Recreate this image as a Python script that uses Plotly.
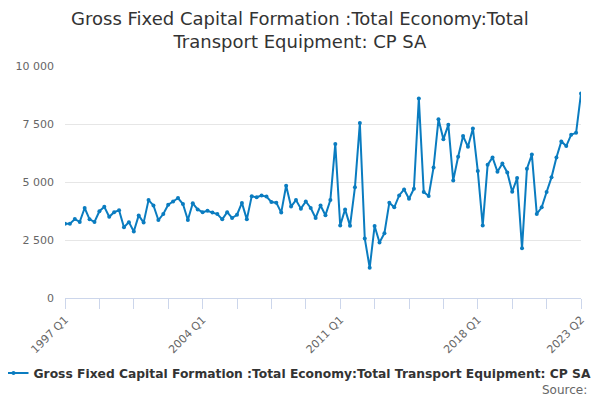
import plotly.graph_objects as go

# quarterly categories 1997 Q1 .. 2023 Q2
quarters = [f"{y} Q{q}" for y in range(1997, 2024) for q in range(1, 5)][:106]

gfcf_transport = [
    3200, 3200, 3400, 3280, 3880, 3390, 3280, 3740, 3930, 3500,
    3700, 3780, 3050, 3270, 2870, 3560, 3250, 4220, 3990, 3360,
    3620, 4020, 4160, 4310, 4050, 3360, 4080, 3820, 3700, 3760,
    3680, 3620, 3390, 3700, 3450, 3590, 4100, 3390, 4390, 4340,
    4420, 4370, 4140, 4110, 3680, 4840, 3940, 4220, 3850, 4160,
    3880, 3450, 3990, 3570, 4220, 6640, 3130, 3820, 3110, 4770,
    7540, 2570, 1300, 3100, 2390, 2790, 4110, 3910, 4420, 4680,
    4280, 4710, 8600, 4570, 4400, 5630, 7700, 6840, 7470, 5070,
    6090, 6980, 6520, 7310, 5470, 3120, 5740, 6060, 5440, 5800,
    5410, 4580, 5170, 2140, 5570, 6180, 3620, 3910, 4570, 5200,
    6060, 6750, 6550, 7040, 7120, 8820,
]

series_name = "Gross Fixed Capital Formation :Total Economy:Total Transport Equipment: CP SA"
y_ticks = [0, 2500, 5000, 7500, 10000]

# x ticks every 7 quarters, label only some of them
tick_idx = list(range(0, len(quarters), 7))
labelled = {0, 28, 56, 84, 105}
tick_text = [quarters[i] if i in labelled else "" for i in tick_idx]

fig = go.Figure()
fig.add_trace(go.Scatter(
    x=quarters, y=gfcf_transport, name=series_name,
    mode="lines+markers",
    line=dict(color="#0a7cc0", width=2),
    marker=dict(color="#0a7cc0", size=4),
))

# page body adds an 8px offset, so the figure is sized to fill the rest of the window
fig.update_layout(
    width=592, height=392,
    font=dict(family="DejaVu Sans", color="#666666", size=11),
    paper_bgcolor="white", plot_bgcolor="white",
    margin=dict(l=57, r=19, t=58, b=102),
    separators=". ",
    title=dict(
        text="Gross Fixed Capital Formation :Total Economy:Total<br>Transport Equipment: CP SA",
        x=0.4932, xref="container", xanchor="center",
        y=0.957, yref="container", yanchor="top",
        font=dict(family="DejaVu Sans", size=18, color="#333333"),
    ),
    showlegend=True,
    legend=dict(
        orientation="h", x=0.4848, xref="container", xanchor="center",
        y=0.069, yref="container", yanchor="middle",
        font=dict(family="DejaVu Sans", size=12.3, color="#333333", weight="bold"),
        itemwidth=30,
    ),
)

fig.update_xaxes(
    type="category", range=[0, len(quarters) - 1], automargin=False,
    tickmode="array", tickvals=[quarters[i] for i in tick_idx], ticktext=tick_text,
    tickangle=-45, ticks="outside", ticklen=10, tickcolor="#ccd6eb",
    showline=True, linecolor="#ccd6eb", linewidth=1,
    showgrid=False, zeroline=False,
    tickfont=dict(size=11, color="#666666"),
)
fig.update_yaxes(
    range=[0, 10000], tickvals=y_ticks, tickformat=",", automargin=False,
    showgrid=True, gridcolor="#e6e6e6", gridwidth=1,
    zeroline=False, showline=False, ticklabelstandoff=10,
    tickfont=dict(size=11, color="#666666"),
)

fig.add_annotation(
    text="Source:", xref="paper", yref="paper",
    x=1.0155, y=-0.3966, xanchor="right", yanchor="middle",
    showarrow=False, font=dict(size=12, color="#666666"),
)

fig.write_html("out.html")
